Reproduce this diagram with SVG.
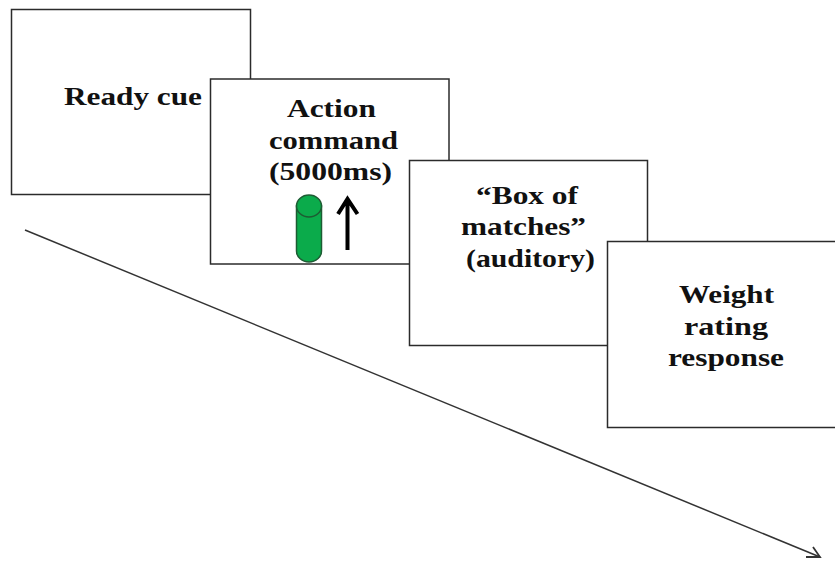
<svg xmlns="http://www.w3.org/2000/svg" width="835" height="561" viewBox="0 0 835 561">
<style>
.card{fill:#fff;stroke:#2b2b2b;stroke-width:1.5}
text{font-family:"Liberation Serif","Times New Roman",serif;font-size:26px;font-weight:bold;fill:#111}
</style>
<rect width="835" height="561" fill="#fff"/>
<g id="connectors">
<line x1="25" y1="230" x2="820" y2="557" stroke="#333" stroke-width="1.500"/>
<path d="M806 557L820 557L813 547" fill="none" stroke="#333" stroke-width="1.800"/>
</g>
<g id="ready-cue"><rect class="card" x="11.500" y="9.500" width="239" height="185"/><text x="64" y="105" textLength="138" lengthAdjust="spacingAndGlyphs">Ready cue</text></g>
<g id="action-command"><rect class="card" x="210.500" y="79" width="238.500" height="185"/>
<text x="287" y="117" textLength="89" lengthAdjust="spacingAndGlyphs">Action</text><text x="269" y="149" textLength="129" lengthAdjust="spacingAndGlyphs">command</text><text x="269" y="180" textLength="123" lengthAdjust="spacingAndGlyphs">(5000ms)</text>
<path d="M296.500 206V251A12.500 11 0 0 0 321.500 251V206Z" fill="#0bab4b" stroke="#1d5c33" stroke-width="1.500"/>
<ellipse cx="309" cy="206" rx="12.500" ry="11" fill="#0bab4b" stroke="#1d5c33" stroke-width="1.500"/>
<path d="M347.500 250V200M338 214L347.500 199L357.500 214" fill="none" stroke="#000" stroke-width="4"/>
</g>
<g id="box-of-matches"><rect class="card" x="409.500" y="160.500" width="238" height="185"/>
<text x="476" y="204" textLength="102" lengthAdjust="spacingAndGlyphs">“Box of</text><text x="461" y="235" textLength="125" lengthAdjust="spacingAndGlyphs">matches”</text><text x="466" y="267" textLength="129" lengthAdjust="spacingAndGlyphs">(auditory)</text></g>
<g id="weight-rating"><rect class="card" x="607.500" y="241.500" width="240" height="186"/>
<text x="679" y="303" textLength="95" lengthAdjust="spacingAndGlyphs">Weight</text><text x="684" y="335" textLength="84" lengthAdjust="spacingAndGlyphs">rating</text><text x="668" y="366" textLength="116" lengthAdjust="spacingAndGlyphs">response</text></g>
</svg>
